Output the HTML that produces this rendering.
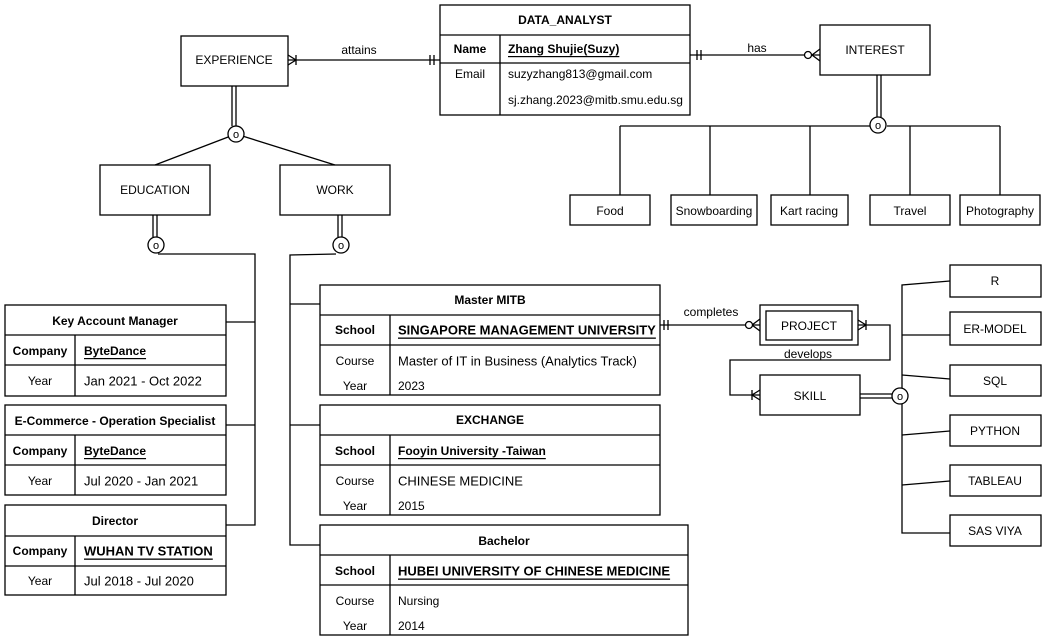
<!DOCTYPE html>
<html><head><meta charset="utf-8">
<style>
html,body{margin:0;padding:0;background:#fff;}
svg{display:block;}
text{font-family:"Liberation Sans",sans-serif;font-size:12px;fill:#000;}
.b{font-weight:bold;}
.u{text-decoration:underline;}
.w{font-size:13px;}
</style></head>
<body>
<svg width="1046" height="641" viewBox="0 0 1046 641" xmlns="http://www.w3.org/2000/svg">
<g fill="none" stroke="#000" stroke-width="1.3">
<rect x="181" y="36" width="107" height="50"/>
<rect x="440" y="5" width="250" height="110"/>
<line x1="440" y1="35" x2="690" y2="35"/>
<line x1="440" y1="63" x2="690" y2="63"/>
<line x1="500" y1="35" x2="500" y2="115"/>
<line x1="288" y1="60" x2="440" y2="60"/>
<path d="M288 55 L296 60 L288 65 M296 55 L296 65"/>
<path d="M430 55 L430 65 M434 55 L434 65"/>
<line x1="690" y1="55" x2="820" y2="55"/>
<path d="M697 50 L697 60 M701 50 L701 60"/>
<path d="M820 49 L812 55 L820 61"/>
<circle cx="808" cy="55" r="3.5" fill="#fff"/>
<rect x="820" y="25" width="110" height="50"/>
<line x1="877" y1="75" x2="877" y2="117"/>
<line x1="881" y1="75" x2="881" y2="117"/>
<line x1="620" y1="126" x2="870" y2="126"/>
<line x1="887" y1="126" x2="1000" y2="126"/>
<line x1="620" y1="126" x2="620" y2="195"/>
<line x1="710" y1="126" x2="710" y2="195"/>
<line x1="810" y1="126" x2="810" y2="195"/>
<line x1="910" y1="126" x2="910" y2="195"/>
<line x1="1000" y1="126" x2="1000" y2="195"/>
<circle cx="878" cy="125" r="8" fill="#fff"/>
<rect x="570" y="195" width="80" height="30"/>
<rect x="671" y="195" width="86" height="30"/>
<rect x="771" y="195" width="77" height="30"/>
<rect x="870" y="195" width="80" height="30"/>
<rect x="960" y="195" width="80" height="30"/>
<line x1="232" y1="86" x2="232" y2="126"/>
<line x1="236" y1="86" x2="236" y2="126"/>
<line x1="236" y1="134" x2="155" y2="165"/>
<line x1="236" y1="134" x2="335" y2="165"/>
<circle cx="236" cy="134" r="8" fill="#fff"/>
<rect x="100" y="165" width="110" height="50"/>
<rect x="280" y="165" width="110" height="50"/>
<line x1="153" y1="215" x2="153" y2="237"/>
<line x1="157" y1="215" x2="157" y2="237"/>
<polyline points="158,254 255,254 255,525 226,525"/>
<line x1="226" y1="322" x2="255" y2="322"/>
<line x1="226" y1="425" x2="255" y2="425"/>
<circle cx="156" cy="245" r="8" fill="#fff"/>
<line x1="338" y1="215" x2="338" y2="237"/>
<line x1="342" y1="215" x2="342" y2="237"/>
<polyline points="336,254 290,255 290,545 320,545"/>
<line x1="290" y1="304" x2="320" y2="304"/>
<line x1="290" y1="425" x2="320" y2="425"/>
<circle cx="341" cy="245" r="8" fill="#fff"/>
<rect x="5" y="305" width="221" height="91"/>
<line x1="5" y1="335" x2="226" y2="335"/>
<line x1="5" y1="365" x2="226" y2="365"/>
<line x1="75" y1="335" x2="75" y2="396"/>
<rect x="5" y="405" width="221" height="90"/>
<line x1="5" y1="435" x2="226" y2="435"/>
<line x1="5" y1="465" x2="226" y2="465"/>
<line x1="75" y1="435" x2="75" y2="495"/>
<rect x="5" y="505" width="221" height="90"/>
<line x1="5" y1="536" x2="226" y2="536"/>
<line x1="5" y1="566" x2="226" y2="566"/>
<line x1="75" y1="536" x2="75" y2="595"/>
<rect x="320" y="285" width="340" height="110"/>
<line x1="320" y1="315" x2="660" y2="315"/>
<line x1="320" y1="345" x2="660" y2="345"/>
<line x1="390" y1="315" x2="390" y2="395"/>
<rect x="320" y="405" width="340" height="110"/>
<line x1="320" y1="435" x2="660" y2="435"/>
<line x1="320" y1="465" x2="660" y2="465"/>
<line x1="390" y1="435" x2="390" y2="515"/>
<rect x="320" y="525" width="368" height="110"/>
<line x1="320" y1="555" x2="688" y2="555"/>
<line x1="320" y1="585" x2="688" y2="585"/>
<line x1="390" y1="555" x2="390" y2="635"/>
<line x1="660" y1="325" x2="760" y2="325"/>
<path d="M664 320 L664 330 M668 320 L668 330"/>
<path d="M760 319 L752 325 L760 331"/>
<circle cx="749" cy="325" r="3.5" fill="#fff"/>
<rect x="760" y="305" width="98" height="40"/>
<rect x="766" y="311" width="86" height="29"/>
<polyline points="858,325 890,325 890,360 730,360 730,395 760,395"/>
<path d="M858 320 L866 325 L858 330 M866 320 L866 330"/>
<path d="M760 390 L752 395 L760 400 M752 390 L752 400"/>
<rect x="760" y="375" width="100" height="40"/>
<line x1="860" y1="394" x2="892" y2="394"/>
<line x1="860" y1="398" x2="892" y2="398"/>
<polyline points="950,281 902,285 902,533 950,533"/>
<line x1="902" y1="335" x2="950" y2="335"/>
<line x1="902" y1="375" x2="950" y2="379"/>
<line x1="902" y1="435" x2="950" y2="431"/>
<line x1="902" y1="485" x2="950" y2="481"/>
<circle cx="900" cy="396" r="8" fill="#fff"/>
<rect x="950" y="265" width="91" height="32"/>
<rect x="950" y="312" width="91" height="33"/>
<rect x="950" y="365" width="91" height="31"/>
<rect x="950" y="415" width="91" height="31"/>
<rect x="950" y="465" width="91" height="31"/>
<rect x="950" y="515" width="91" height="31"/>
</g>
<g dominant-baseline="central">
<text x="234" y="60" text-anchor="middle">EXPERIENCE</text>
<text x="359" y="50" text-anchor="middle">attains</text>
<text x="565" y="20" text-anchor="middle" class="b">DATA_ANALYST</text>
<text x="470" y="49" text-anchor="middle" class="b">Name</text>
<text x="508" y="49" class="b u">Zhang Shujie(Suzy)</text>
<text x="470" y="74" text-anchor="middle">Email</text>
<text x="508" y="74">suzyzhang813@gmail.com</text>
<text x="508" y="100">sj.zhang.2023@mitb.smu.edu.sg</text>
<text x="757" y="48" text-anchor="middle">has</text>
<text x="875" y="50" text-anchor="middle">INTEREST</text>
<text x="878" y="126" text-anchor="middle" style="font-size:11px">o</text>
<text x="610" y="211" text-anchor="middle">Food</text>
<text x="714" y="211" text-anchor="middle">Snowboarding</text>
<text x="809" y="211" text-anchor="middle">Kart racing</text>
<text x="910" y="211" text-anchor="middle">Travel</text>
<text x="1000" y="211" text-anchor="middle">Photography</text>
<text x="236" y="135" text-anchor="middle" style="font-size:11px">o</text>
<text x="155" y="190" text-anchor="middle">EDUCATION</text>
<text x="335" y="190" text-anchor="middle">WORK</text>
<text x="156" y="246" text-anchor="middle" style="font-size:11px">o</text>
<text x="341" y="246" text-anchor="middle" style="font-size:11px">o</text>
<text x="115" y="321" text-anchor="middle" class="b">Key Account Manager</text>
<text x="40" y="351" text-anchor="middle" class="b">Company</text>
<text x="84" y="351" class="b u">ByteDance</text>
<text x="40" y="381" text-anchor="middle">Year</text>
<text x="84" y="381" class="w">Jan 2021 - Oct 2022</text>
<text x="115" y="421" text-anchor="middle" class="b">E-Commerce - Operation Specialist</text>
<text x="40" y="451" text-anchor="middle" class="b">Company</text>
<text x="84" y="451" class="b u">ByteDance</text>
<text x="40" y="481" text-anchor="middle">Year</text>
<text x="84" y="481" class="w">Jul 2020 - Jan 2021</text>
<text x="115" y="521" text-anchor="middle" class="b">Director</text>
<text x="40" y="551" text-anchor="middle" class="b">Company</text>
<text x="84" y="551" class="b u w">WUHAN TV STATION</text>
<text x="40" y="581" text-anchor="middle">Year</text>
<text x="84" y="581" class="w">Jul 2018 - Jul 2020</text>
<text x="490" y="300" text-anchor="middle" class="b">Master MITB</text>
<text x="355" y="330" text-anchor="middle" class="b">School</text>
<text x="398" y="330" class="b u w">SINGAPORE MANAGEMENT UNIVERSITY</text>
<text x="355" y="361" text-anchor="middle">Course</text>
<text x="398" y="361" class="w">Master of IT in Business (Analytics Track)</text>
<text x="355" y="386" text-anchor="middle">Year</text>
<text x="398" y="386">2023</text>
<text x="490" y="420" text-anchor="middle" class="b">EXCHANGE</text>
<text x="355" y="451" text-anchor="middle" class="b">School</text>
<text x="398" y="451" class="b u">Fooyin University -Taiwan</text>
<text x="355" y="481" text-anchor="middle">Course</text>
<text x="398" y="481" class="w">CHINESE MEDICINE</text>
<text x="355" y="506" text-anchor="middle">Year</text>
<text x="398" y="506">2015</text>
<text x="504" y="541" text-anchor="middle" class="b">Bachelor</text>
<text x="355" y="571" text-anchor="middle" class="b">School</text>
<text x="398" y="571" class="b u w">HUBEI UNIVERSITY OF CHINESE MEDICINE</text>
<text x="355" y="601" text-anchor="middle">Course</text>
<text x="398" y="601">Nursing</text>
<text x="355" y="626" text-anchor="middle">Year</text>
<text x="398" y="626">2014</text>
<text x="711" y="312" text-anchor="middle">completes</text>
<text x="809" y="326" text-anchor="middle">PROJECT</text>
<text x="808" y="354" text-anchor="middle">develops</text>
<text x="810" y="396" text-anchor="middle">SKILL</text>
<text x="900" y="397" text-anchor="middle" style="font-size:11px">o</text>
<text x="995" y="281" text-anchor="middle">R</text>
<text x="995" y="329" text-anchor="middle">ER-MODEL</text>
<text x="995" y="381" text-anchor="middle">SQL</text>
<text x="995" y="431" text-anchor="middle">PYTHON</text>
<text x="995" y="481" text-anchor="middle">TABLEAU</text>
<text x="995" y="531" text-anchor="middle">SAS VIYA</text>
</g>
</svg>
</body></html>
